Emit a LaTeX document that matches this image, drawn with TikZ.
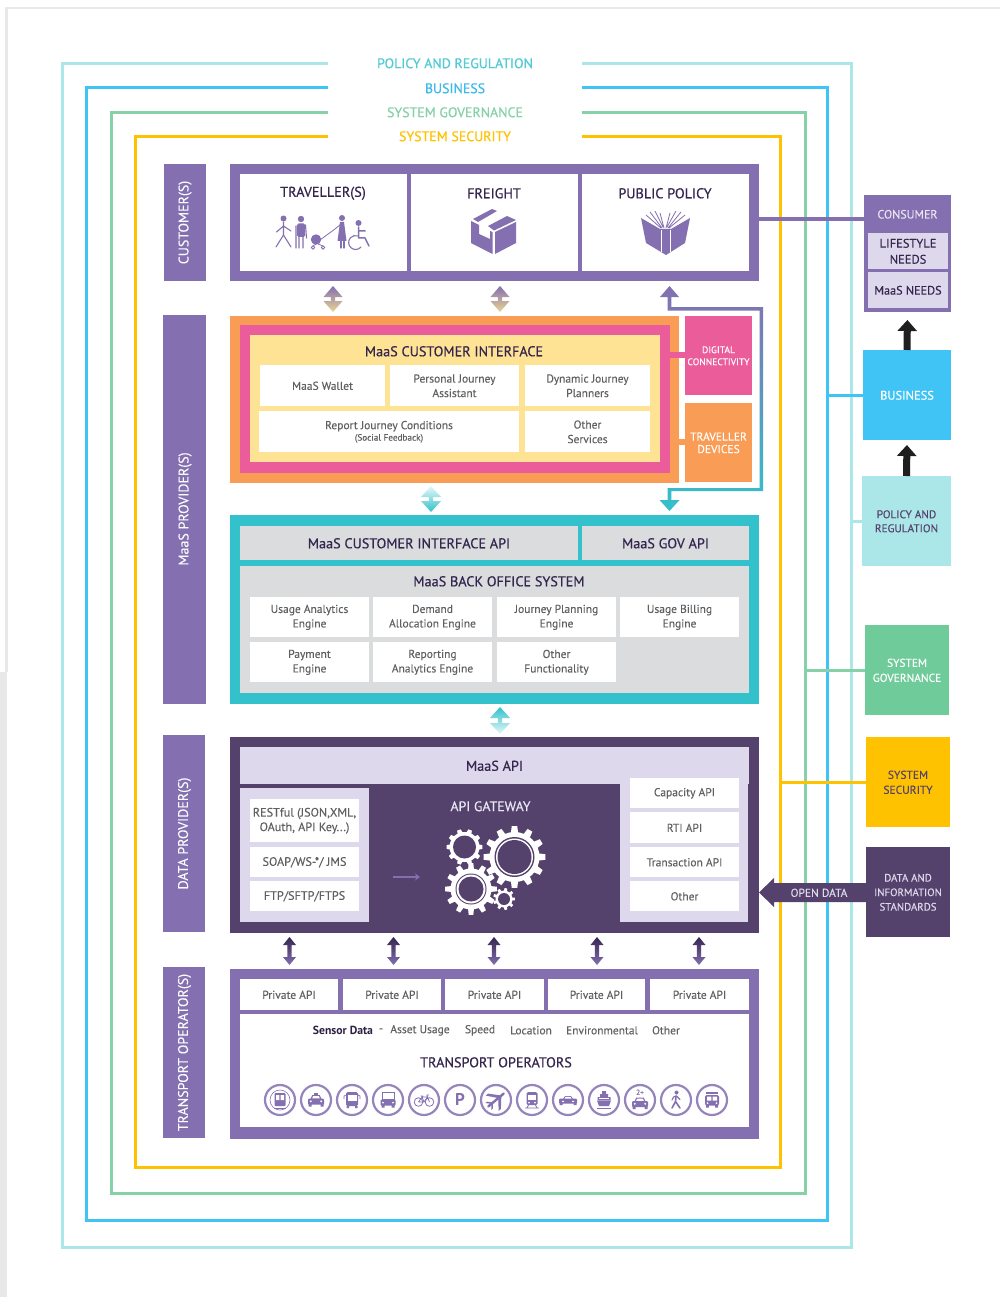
\documentclass[tikz,border=0pt]{standalone}
\usepackage{fontspec}
\setmainfont{PT Sans}[UprightFeatures={FakeBold=0.12}]
\newfontfamily\hdfont{PT Sans}[FakeBold=0.45]
\usetikzlibrary{calc,arrows.meta}
\definecolor{cPur}{HTML}{846FB0}
\definecolor{cDark}{HTML}{54426C}
\definecolor{cInk}{HTML}{35264F}
\definecolor{cLav}{HTML}{DED8EC}
\definecolor{cGry}{HTML}{5F6062}
\definecolor{cOrg}{HTML}{F99D56}
\definecolor{cPnk}{HTML}{EB5C9B}
\definecolor{cYel}{HTML}{FEE395}
\definecolor{cTl}{HTML}{33C1CB}
\definecolor{cSil}{HTML}{DBDCDE}
\definecolor{cPol}{HTML}{ABE6E8}
\definecolor{cBus}{HTML}{40C4F5}
\definecolor{cGov}{HTML}{6FCB9A}
\definecolor{cGovL}{HTML}{86D1A8}
\definecolor{cSec}{HTML}{FFC200}
\definecolor{cFrm}{HTML}{E8E8E9}
\definecolor{cTan}{HTML}{E9D492}
\tikzset{
  rb/.style={inner sep=0pt,outer sep=0pt,draw=none,align=center},
  hd/.style={font=\hdfont\fontsize{14.2}{16}\selectfont,text=cInk},
  ttl/.style={font=\hdfont\fontsize{13.9}{16}\selectfont},
  sm/.style={font=\fontsize{11.5}{14.5}\selectfont,text=cGry},
  prot/.style={font=\fontsize{12.2}{14.5}\selectfont,text=cGry},
  sidebox/.style={fill=cPur},
  sidetxt/.style={rotate=90,text=white!85!cLav,font=\fontsize{14}{16}\selectfont},
  frameline/.style={line width=3pt},
  ico/.style={fill=cPur,draw=none},
  icl/.style={draw=cPur,line width=1.1pt,line cap=round,line join=round},
  wh/.style={fill=white,draw=none}
}
% name x1 y1 x2 y2 style text : box, with its text a hair below the centre
\newcommand{\mkbox}[7]{\node[rb,#6,minimum width={(#4)-(#2)},minimum height={(#5)-(#3)}] (#1) at ({((#2)+(#4))/2},{((#3)+(#5))/2}) {};
  \node[rb,#6,fill=none,yshift=-0.3pt] (#1t) at (#1.center) {#7};}
\newcommand{\mktxt}[5]{\node[rb,#4,yshift=-0.3pt] (#1) at (#2,#3) {#5};}
% upper node, lower node, x, gap-top, gap-bottom, half width, head length, top colour, bottom colour
\newcommand{\gradarrow}[9]{%
  \coordinate (ax) at (#3,0);
  \coordinate (ta) at ($(#1.south -| ax)+(0,#4)$);
  \coordinate (tb) at ($(#2.north -| ax)+(0,-#5)$);
  \shade[top color=#8,bottom color=#9]
    (ta) -- ($(ta)+(#6,#7)$) -- ($(ta)+(2.2,#7)$) -- ($(tb)+(2.2,-#7)$) -- ($(tb)+(#6,-#7)$) -- (tb)
    -- ($(tb)+(-#6,-#7)$) -- ($(tb)+(-2.2,-#7)$) -- ($(ta)+(-2.2,#7)$) -- ($(ta)+(-#6,#7)$) -- cycle;
}
% cx cy Ro Rr n
\newcommand{\mygear}[5]{%
  \pgfmathsetmacro{\gst}{360/#5}
  \fill[white] (#1,#2) circle (#4);
  \foreach \gi in {1,...,#5}{
    \pgfmathsetmacro{\gaa}{\gi*\gst}
    \pgfmathsetmacro{\gab}{\gaa-0.28*\gst}
    \pgfmathsetmacro{\gac}{\gaa-0.17*\gst}
    \pgfmathsetmacro{\gad}{\gaa+0.17*\gst}
    \pgfmathsetmacro{\gae}{\gaa+0.28*\gst}
    \fill[white] ([shift={(#1,#2)}]\gab:#4-0.5) -- ([shift={(#1,#2)}]\gac:#3) -- ([shift={(#1,#2)}]\gad:#3) -- ([shift={(#1,#2)}]\gae:#4-0.5) -- cycle;
  }
}
\newcommand{\tcircle}[1]{\draw[cPur!85,line width=2.2pt] (#1,1100) circle (15);}
\newcommand{\carico}{%
  \fill[ico] (-5.5,-1) -- (-3.8,-4.8) -- (3.8,-4.8) -- (5.5,-1) -- cycle;
  \fill[ico,rounded corners=1pt] (-8,-1.5) rectangle (8,4.5);
  \fill[ico] (-7.5,4) rectangle (-4.5,6.5) (4.5,4) rectangle (7.5,6.5);
  \fill[wh] (-3.8,-1.6) -- (-2.9,-4) -- (2.9,-4) -- (3.8,-1.6) -- cycle;
  \fill[wh] (-5.2,1.3) circle (1.1) (5.2,1.3) circle (1.1);
}
\begin{document}
\begin{tikzpicture}[x=1pt,y=-1pt]
\useasboundingbox (0,0) rectangle (1000,1297);
\fill[white] (0,0) rectangle (1000,1297);
% page edge
\fill[cFrm] (5,7) rectangle (1000,9.5);
\fill[cFrm] (5,7) rectangle (7.5,672);
\fill[cFrm] (0,672) rectangle (7,1297);

% title labels
\mktxt{tPol}{455}{63}{ttl,text=cTl!85!white}{POLICY AND REGULATION}
\mktxt{tBus}{455}{88}{ttl,text=cBus!95!black}{BUSINESS}
\mktxt{tGov}{455}{112}{ttl,text=cGovL}{SYSTEM GOVERNANCE}
\mktxt{tSec}{455}{136}{ttl,text=cSec}{SYSTEM SECURITY}

% nested frames
\coordinate (pL) at (328,63.5); \coordinate (pR) at (582,63.5);
\coordinate (bL) at (328,88);   \coordinate (bR) at (582,88);
\coordinate (gL) at (328,112.5);\coordinate (gR) at (582,112.5);
\coordinate (sL) at (328,136.5);\coordinate (sR) at (582,136.5);
\draw[frameline,cPol] (pL) -| (62,1247) -| (851,63.5) -- (pR);
\draw[frameline,cBus] (bL) -| (86.5,1220) -| (827,88) -- (bR);
\draw[frameline,cGovL] (gL) -| (111,1193) -| (805,112.5) -- (gR);
\draw[frameline,cSec] (sL) -| (135.5,1167) -| (780.5,136.5) -- (sR);

% left side labels
\mkbox{sCust}{164}{164}{206}{281}{sidebox}{}
\mkbox{sProv}{163}{315}{206}{704}{sidebox}{}
\mkbox{sData}{163}{735}{205}{932}{sidebox}{}
\mkbox{sTran}{163}{967}{205}{1138}{sidebox}{}
\node[rb,sidetxt] (lCust) at (185,222.5) {CUSTOMER(S)};
\node[rb,sidetxt] (lProv) at (185,509) {MaaS PROVIDER(S)};
\node[rb,sidetxt] (lData) at (184.5,833.5) {DATA PROVIDER(S)};
\node[rb,sidetxt] (lTran) at (184.5,1052.5) {TRANSPORT OPERATOR(S)};

% customers
\mkbox{cust}{230}{164}{759}{281}{fill=cPur}{}
\mkbox{trav}{240}{174}{407}{271}{fill=white}{}
\mkbox{frei}{411}{174}{578}{271}{fill=white}{}
\mkbox{publ}{582}{174}{749}{271}{fill=white}{}
\mktxt{tTrav}{323}{193}{hd}{TRAVELLER(S)}
\mktxt{tFrei}{494}{193}{hd}{FREIGHT}
\mktxt{tPubl}{665}{193}{hd}{PUBLIC POLICY}
% traveller icons
\fill[ico] (283.5,218.5) circle (3) (301,219) circle (3.2) (342,218) circle (3) (358.5,223) circle (3);
\draw[icl] (283.5,222) -- (283.5,235) (276.5,232) -- (283.5,226) -- (291,231) (276,247) -- (283.5,235) -- (291,247);
\fill[ico,rounded corners=1.5pt] (297,223.5) rectangle (305,237);
\draw[icl] (299,236) -- (299,248) (303,236) -- (303,248) (296,226) -- (296,248) (305.5,225) -- (306.5,238);
\fill[ico] (316,239.5) circle (5.2);
\draw[icl,line width=.8pt] (313,247.5) circle (1.8) (323,247.5) circle (1.8) (316,244) -- (313,246) (318,244) -- (323,246) (320,240) -- (335,229) -- (341,224);
\fill[ico] (340,222) -- (344,222) -- (346.5,241) -- (337.5,241) -- cycle;
\draw[icl] (341,241) -- (341,248) (344,241) -- (344,248);
\draw[icl,line width=1.5pt] (358.5,227) -- (358.5,238) -- (365,238) -- (369,246) (358.5,231) -- (365,231);
\draw[icl] (361,247) arc (40:290:7);
% box icon
\fill[ico] (471,221) -- (479,225) -- (479,234) -- (490,239) -- (490,231) -- (492.5,232) -- (492.5,254) -- (471,243) -- cycle;
\fill[ico] (495,232) -- (516,222) -- (516,243) -- (495,254) -- cycle;
\fill[ico] (473,219) -- (492,209) -- (497,211) -- (478,222) -- cycle;
\fill[ico] (488,226) -- (507,216) -- (516,220) -- (494,230.5) -- cycle;
% book icon
\fill[ico] (641,218) -- (660,229) -- (671,229) -- (690,218) -- (685,243) -- (666,255) -- (646,243) -- cycle;
\draw[cPur,line width=.8pt] (661,228) -- (646,215) (662,228) -- (650,212) (663,227) -- (655,211) (664,228) -- (660,213) (669,228) -- (685,215) (668,228) -- (681,212) (667,227) -- (676,211) (666,228) -- (670,213);
\draw[white,line width=.8pt] (661,230) -- (661,252) (670,230) -- (670,252);

% maas customer interface
\mkbox{orgb}{230}{316}{679}{483}{fill=cOrg}{}
\mkbox{pnkb}{240}{325}{670}{473}{fill=cPnk}{}
\mkbox{yelb}{250}{335}{660}{462}{fill=cYel}{}
\mktxt{tMci}{454}{351}{hd}{MaaS CUSTOMER INTERFACE}
\mkbox{wal}{260}{365}{385}{406}{fill=white,sm}{MaaS Wallet}
\mkbox{pja}{390}{365}{519}{406}{fill=white,sm}{Personal Journey\\Assistant}
\mkbox{djp}{525}{365}{650}{406}{fill=white,sm}{Dynamic Journey\\Planners}
\mkbox{rjc}{259}{411}{519}{452}{fill=white,sm}{Report Journey Conditions\\[-3pt]{\fontsize{9.2}{11}\selectfont (Social Feedback)}}
\mkbox{oth}{525}{411}{650}{452}{fill=white,sm}{Other\\Services}
\mkbox{dig}{685}{316}{752}{395}{fill=cPnk,text=white,font=\fontsize{9.6}{12}\selectfont}{DIGITAL\\CONNECTIVITY}
\mkbox{tdv}{685}{403}{752}{482}{fill=cOrg,text=white,font=\fontsize{11.5}{12.5}\selectfont}{TRAVELLER\\DEVICES}
\coordinate (y355) at (0,355); \coordinate (y442) at (0,442);
\draw[cPnk,line width=6pt] (pnkb.east |- y355) -- (dig.west |- y355);
\draw[cOrg,line width=6pt] (orgb.east |- y442) -- (tdv.west |- y442);

% back office
\mkbox{tlb}{230}{515}{759}{704}{fill=cTl}{}
\mkbox{mciapi}{240}{526}{578}{560}{fill=cSil,hd}{MaaS CUSTOMER INTERFACE API}
\mkbox{govapi}{582}{526}{749}{560}{fill=cSil,hd}{MaaS GOV API}
\mkbox{bos}{240}{566}{749}{693}{fill=cSil}{}
\mktxt{tBos}{499}{581}{hd}{MaaS BACK OFFICE SYSTEM}
\mkbox{e1}{250}{597}{369}{637}{fill=white,sm}{Usage Analytics\\Engine}
\mkbox{e2}{373}{597}{492}{637}{fill=white,sm}{Demand\\Allocation Engine}
\mkbox{e3}{497}{597}{616}{637}{fill=white,sm}{Journey Planning\\Engine}
\mkbox{e4}{620}{597}{739}{637}{fill=white,sm}{Usage Billing\\Engine}
\mkbox{e5}{250}{642}{369}{682}{fill=white,sm}{Payment\\Engine}
\mkbox{e6}{373}{642}{492}{682}{fill=white,sm}{Reporting\\Analytics Engine}
\mkbox{e7}{497}{642}{616}{682}{fill=white,sm}{Other\\Functionality}

% data provider
\mkbox{dat}{230}{737}{759}{933}{fill=cDark}{}
\mkbox{mapi}{240}{747}{749}{784}{fill=cLav,hd}{MaaS API}
\mkbox{lpan}{240}{788}{369}{922}{fill=cLav}{}
\mkbox{rpan}{620}{784}{748}{922}{fill=cLav}{}
\mkbox{rest}{250}{799}{359}{842}{fill=white,prot}{RESTful (JSON,XML,\\OAuth, API Key...)}
\mkbox{soap}{250}{847}{359}{877}{fill=white,prot}{SOAP/WS-*/ JMS}
\mkbox{ftp}{250}{881}{359}{911}{fill=white,prot}{FTP/SFTP/FTPS}
\mkbox{capa}{630}{778}{739}{808}{fill=white,sm}{Capacity API}
\mkbox{rti}{630}{812}{739}{843}{fill=white,sm}{RTI API}
\mkbox{txn}{630}{847}{739}{877}{fill=white,sm}{Transaction API}
\mkbox{othr}{630}{881}{739}{911}{fill=white,sm}{Other}
\mktxt{tGate}{490.5}{806}{font=\fontsize{13.8}{15}\selectfont,text=cLav!60!white}{API GATEWAY}
\coordinate (gearw) at (420,877);
\coordinate (arrS) at (393,877);
\draw[cPur,line width=1.1pt,-{Stealth[length=5pt,width=7pt]}] (arrS) -- (gearw);
% gears
\mygear{514.5}{857}{31}{25}{12}
\fill[cDark] (514.5,857) circle (20);
\fill[white] (514.5,857) circle (18.5);
\fill[cDark] (514.5,857) circle (17);
\mygear{464.5}{847}{18}{15}{10}
\fill[cDark] (464.5,847) circle (11.5);
\mygear{471}{889}{26}{20.5}{12}
\fill[cDark] (471,889) circle (15.5);
\fill[white] (471,889) circle (14.5);
\fill[cDark] (471,889) circle (12.5);
\mygear{504}{899}{11}{8.5}{9}
\fill[cDark] (504,899) circle (6);

% transport operators
\mkbox{tra}{230}{969}{759}{1139}{fill=cPur}{}
\mkbox{pa1}{240}{979}{338}{1010}{fill=white,sm}{Private API}
\mkbox{pa2}{343}{979}{441}{1010}{fill=white,sm}{Private API}
\mkbox{pa3}{445}{979}{544}{1010}{fill=white,sm}{Private API}
\mkbox{pa4}{548}{979}{645}{1010}{fill=white,sm}{Private API}
\mkbox{pa5}{650}{979}{749}{1010}{fill=white,sm}{Private API}
\mkbox{tpan}{240}{1014}{749}{1127}{fill=white}{}
\mktxt{sd0}{343}{1030}{sm,text=cInk!85!black,font=\fontsize{11.7}{14}\selectfont\bfseries}{Sensor Data}
\mktxt{sd1}{381}{1030}{sm}{-}
\mktxt{sd2}{420}{1030}{sm}{Asset Usage}
\mktxt{sd3}{480}{1030}{sm}{Speed}
\mktxt{sd4}{531}{1030}{sm}{Location}
\mktxt{sd5}{602}{1030}{sm}{Environmental}
\mktxt{sd6}{666}{1030}{sm}{Other}
\mktxt{tTop}{496}{1062}{hd}{TRANSPORT OPERATORS}
% transport icons
\foreach \cx in {280,316,352,388,424,460,496,532,568,604,640,676,712}{\tcircle{\cx}}
\begin{scope}[shift={(280,1100)}]
 \draw[cPur,line width=.6pt] (0,0) circle (10);
 \fill[ico,rounded corners=1pt] (-5.5,-7) rectangle (5.5,6);
 \fill[wh] (-4,-5) rectangle (-.6,0) (.6,-5) rectangle (4,0);
 \draw[cPur,line width=.8pt] (-6,8) -- (6,8);
\end{scope}
\begin{scope}[shift={(316,1100)}]
 \carico
 \fill[ico] (-1.8,-7) rectangle (1.8,-4.5);
\end{scope}
\begin{scope}[shift={(352,1100)}]
 \fill[ico,rounded corners=1.5pt] (-6,-8) rectangle (6,6);
 \fill[wh] (-4.5,-5.5) rectangle (4.5,1);
 \fill[ico] (-5.5,6) rectangle (-3,8) (3,6) rectangle (5.5,8);
 \draw[cPur,line width=.7pt] (-6,-5) -- (-8,-4) -- (-8,-1) (6,-5) -- (8,-4) -- (8,-1);
\end{scope}
\begin{scope}[shift={(388,1100)}]
 \draw[cPur,line width=1pt] (-6,-8) rectangle (6,-.5);
 \fill[ico,rounded corners=1pt] (-7.5,-.5) rectangle (7.5,5.5);
 \fill[wh] (-5,2.5) circle (1) (5,2.5) circle (1);
 \fill[ico] (-6.5,5) rectangle (-3.5,7.5) (3.5,5) rectangle (6.5,7.5);
\end{scope}
\begin{scope}[shift={(424,1100)}]
 \draw[cPur,line width=.8pt] (-5.5,2) circle (4.3) (5.5,2) circle (4.3);
 \draw[cPur,line width=.8pt] (-5.5,2) -- (-2,-3) -- (3.5,-3) -- (0,2) -- (-5.5,2) (-2,-3) -- (0,2) (3.5,-3) -- (5.5,2) (3.5,-3) -- (3,-5) -- (5,-5) (-3.5,-4) -- (-1,-4);
\end{scope}
\mktxt{pSign}{460}{1099.5}{font=\fontsize{17}{18}\selectfont\bfseries,text=cPur}{P}
\begin{scope}[shift={(496,1100)},rotate=40]
 \draw[cPur,line width=2.4pt,line cap=round] (-10,0) -- (10,0);
 \fill[ico] (3,0) -- (-5,-10) -- (-2,-10) -- (7,0) -- (-2,10) -- (-5,10) -- cycle;
 \fill[ico] (-6,0) -- (-10,-4.5) -- (-8,-4.5) -- (-4,0) -- (-8,4.5) -- (-10,4.5) -- cycle;
\end{scope}
\begin{scope}[shift={(532,1100)}]
 \fill[ico,rounded corners=1.5pt] (-5.5,-8) rectangle (5.5,5);
 \fill[wh] (-4,-5.5) rectangle (4,-.5);
 \fill[wh] (-3,2.5) circle (1) (3,2.5) circle (1);
 \draw[cPur,line width=.8pt] (-7,8) -- (7,8) (-3.5,5) -- (-5,8) (3.5,5) -- (5,8);
\end{scope}
\begin{scope}[shift={(568,1100)}]
 \fill[ico] (-5,-1) -- (-3,-4) -- (3,-4) -- (5,-1) -- cycle;
 \fill[ico,rounded corners=1pt] (-9,-1.5) rectangle (9,3.5);
 \fill[ico] (-8.5,3) rectangle (-5.5,5) (5.5,3) rectangle (8.5,5);
 \fill[wh] (-3.5,-1.5) -- (-2.4,-3.2) -- (2.4,-3.2) -- (3.5,-1.5) -- cycle;
 \fill[wh] (-6,.8) rectangle (-4,1.8) (4,.8) rectangle (6,1.8);
\end{scope}
\begin{scope}[shift={(604,1100)}]
 \fill[ico] (-2,-9) rectangle (2,-6) (-4,-6) rectangle (4,-3);
 \fill[ico] (-6.5,-3) rectangle (6.5,0) (-7,.5) -- (7,.5) -- (5,6) -- (-5,6) -- cycle;
 \draw[white,line width=.5pt] (-5,-1.5) -- (5,-1.5);
 \draw[cPur,line width=.8pt] (-7,8) -- (7,8);
\end{scope}
\begin{scope}[shift={(640,1102.5)}]
 \carico
\end{scope}
\mktxt{twoP}{640}{1092}{font=\fontsize{7.5}{8}\selectfont,text=cPur}{2+}
\begin{scope}[shift={(676,1100)}]
 \fill[ico] (.5,-7.5) circle (2);
 \draw[cPur,line width=1.6pt,line cap=round,line join=round] (0,-4) -- (-.5,1.5) -- (-4,8) (-.5,1.5) -- (4,8);
 \draw[cPur,line width=1.1pt,line cap=round,line join=round] (-4,0) -- (-2.5,-3) -- (.5,-4) -- (4,-.5);
\end{scope}
\begin{scope}[shift={(712,1100)}]
 \fill[ico] (-6,-8) rectangle (6,-6);
 \fill[ico,rounded corners=1.5pt] (-7,-5) rectangle (7,5.5);
 \fill[wh] (-5,-3.5) rectangle (-.7,.5) (.7,-3.5) rectangle (5,.5);
 \fill[ico] (-6,5) rectangle (-3.2,7.5) (3.2,5) rectangle (6,7.5);
 \fill[wh] (-4.5,3) circle (1) (4.5,3) circle (1);
\end{scope}

% right column
\mkbox{cons}{864}{195}{951}{312}{fill=cPur}{}
\mktxt{tCons}{907.5}{214}{font=\fontsize{12}{14}\selectfont,text=cLav!70!white}{CONSUMER}
\mkbox{life}{868}{233}{948}{269}{fill=cLav,text=cInk,font=\fontsize{12.5}{16}\selectfont}{LIFESTYLE\\NEEDS}
\mkbox{mneed}{868}{272}{948}{308}{fill=cLav,text=cInk,font=\fontsize{12.2}{14}\selectfont}{MaaS NEEDS}
\mkbox{busb}{863}{350}{951}{440}{fill=cBus,text=white,font=\fontsize{12.4}{14}\selectfont}{BUSINESS}
\mkbox{polb}{862}{476}{951}{566}{fill=cPol,text=cDark,font=\fontsize{11.2}{14}\selectfont}{POLICY AND\\REGULATION}
\mkbox{govb}{865}{625}{949}{715}{fill=cGov,text=white,font=\fontsize{11.4}{15}\selectfont}{SYSTEM\\GOVERNANCE}
\mkbox{secb}{866}{737}{950}{827}{fill=cSec,text=cDark,font=\fontsize{11.5}{15}\selectfont}{SYSTEM\\SECURITY}
\mkbox{dasb}{866}{847}{950}{937}{fill=cDark,text=cLav,font=\fontsize{10.8}{14.5}\selectfont}{DATA AND\\INFORMATION\\STANDARDS}

% branch lines
\coordinate (xP) at (851,0); \coordinate (xB) at (827,0); \coordinate (xG) at (805,0); \coordinate (xS) at (780.5,0);
\draw[frameline,cPol] (polb.west) -- (polb.west -| xP);
\draw[frameline,cBus] (busb.west) -- (busb.west -| xB);
\draw[frameline,cGovL] (govb.west) -- (govb.west -| xG);
\draw[frameline,cSec] (secb.west) -- (secb.west -| xS);
\coordinate (c219) at (864,219);
\draw[cPur,line width=3.5pt] (cust.east |- c219) -- (c219);

% black arrows on the right
\draw[line width=7pt,color=black!88,-{Triangle[length=11pt,width=19pt]},shorten >=8pt] (busb.north) -- (cons.south);
\draw[line width=7pt,color=black!88,-{Triangle[length=11pt,width=19pt]},shorten >=5pt] (polb.north) -- (busb.south);

% open data arrow
\coordinate (odT) at (dat.east |- dasb.west);
\coordinate (y883) at (0,883); \coordinate (y902) at (0,902); \coordinate (y8925) at (0,892.5);
\fill[cDark] (dasb.west |- y883) -- (774,883) -- (774,878) -- (odT |- y8925) -- (774,907) -- (774,902) -- (dasb.west |- y902) -- cycle;
\mktxt{tOd}{819}{892.5}{font=\fontsize{11.5}{14}\selectfont,text=cLav}{OPEN DATA}

% gradient double arrows
\gradarrow{cust}{orgb}{333}{5}{4}{9.5}{11}{cPur}{cTan}
\gradarrow{cust}{orgb}{500}{5}{4}{9.5}{11}{cPur}{cTan}
\gradarrow{orgb}{tlb}{431}{3}{3}{10}{11}{cTl!12!white}{cTl}
\gradarrow{tlb}{dat}{500}{3}{3}{10}{11}{cTl}{cTl!12!white}
\foreach \ax in {289.5,393.5,494,597,699}{
  \gradarrow{dat}{tra}{\ax}{4}{4}{6.5}{8}{cInk}{cPur}
}
% feedback arrow customer <-> back office, via the right side
\coordinate (fx) at (669.5,0);
\coordinate (fa) at ($(cust.south -| fx)+(0,5)$);
\coordinate (fb) at ($(tlb.north -| fx)+(0,-4)$);
\shade[top color=cPur,bottom color=cTl]
  (fa) -- ++(9.5,11) -- ++(-7.7,0) -- (671.3,307) -- (763,307) -- (763,491) -- (671.3,491) -- (671.3,500) -- ($(fb)+(10,-11)$) -- (fb) -- ($(fb)+(-10,-11)$) -- (667.7,500) -- (667.7,488) -- (759.5,488) -- (759.5,310.5) -- (667.7,310.5) -- (667.7,297) -- ($(fa)+(-9.5,11)$) -- cycle;
\end{tikzpicture}
\end{document}
